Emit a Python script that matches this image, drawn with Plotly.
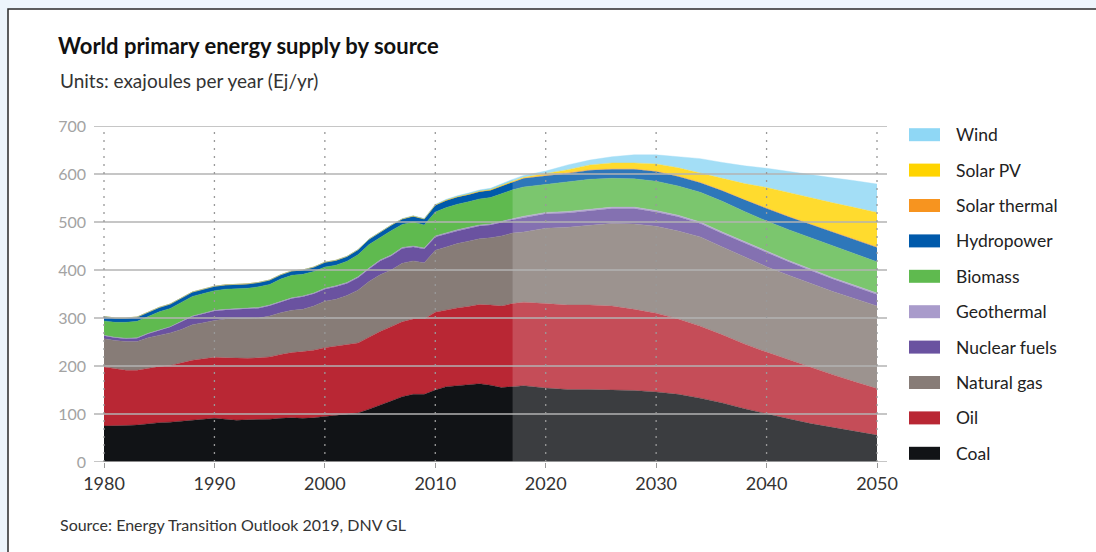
import plotly.graph_objects as go

# ---------------- data ----------------
years = list(range(1980, 2018)) + list(range(2018, 2051, 2))

coal = [75, 75, 76, 77, 80, 82, 83, 85, 88, 89,
        91, 89, 87, 88, 88, 89, 91, 92, 91, 92,
        95, 97, 99, 102, 110, 118, 127, 136, 141, 141,
        150, 157, 159, 161, 163, 160, 155, 157,
        159, 154, 151, 151, 150, 149, 146, 141, 133, 123, 111, 100, 90, 80, 72, 64, 56]
oil = [123, 119, 115, 114, 115, 117, 118, 121, 124, 126,
       127, 128, 129, 128, 129, 130, 133, 136, 139, 141,
       143, 144, 145, 146, 150, 154, 155, 156, 157, 157,
       162, 160, 162, 163, 165, 167, 170, 173,
       174, 176, 176, 176, 175, 169, 164, 157, 150, 142, 135, 129, 123, 117, 110, 103, 97]
gas = [59, 59, 60, 60, 64, 65, 68, 70, 74, 75,
       77, 81, 83, 83, 83, 85, 87, 88, 88, 92,
       97, 98, 103, 110, 116, 118, 118, 122, 121, 117,
       129, 131, 134, 136, 137, 140, 146, 147,
       146, 157, 162, 166, 172, 178, 181, 183, 186, 183, 181, 178, 176, 175, 173, 173, 172]
nuclear = [6, 6, 6, 7, 8, 10, 12, 16, 17, 19,
           19.5, 18.5, 18.5, 19.5, 20.5, 21.5, 22.5, 24.5, 26.5, 25.5,
           25, 26, 25, 26, 26, 29, 29, 31, 29, 29,
           27.5, 27.5, 26.5, 26.5, 26.5, 26.5, 28.5, 27.5,
           30, 30, 30, 31, 31, 32, 30, 30, 28, 28, 29, 29, 28, 27, 26, 25, 24]
geothermal = [1] * 10 + [1.5] * 10 + [2] * 10 + [2.5] * 8 + [3] * 17
biomass = [30, 31, 33, 34, 35, 38, 38, 40, 41, 41,
           41, 42, 42, 42, 43, 43, 46, 47, 45, 45,
           44, 43, 44, 46, 49, 47, 51, 48, 50, 48,
           50, 52, 53, 53, 54, 55, 57, 60,
           61, 58, 62, 62, 60, 59, 61, 61, 62, 64, 63, 63, 64, 65, 66, 65, 65]
hydro = [9] * 20 + [10, 10, 10, 10, 11, 11, 11, 11, 12, 12,
                    14, 15, 15, 15, 15, 15, 16, 16,
                    18, 18, 17, 19, 19, 20, 20, 20, 20, 22, 24, 26, 27, 28, 29, 30, 30]
solar_thermal = [0.1] * 20 + [0.2] * 10 + [0.3, 0.3, 0.3, 0.4, 0.4, 0.4, 0.5, 0.5,
                                           0.5, 1, 1, 1, 1, 1, 1, 1, 1, 1, 1, 1, 1, 1, 1, 1, 1.5]
solar_pv = [0] * 28 + [0.1, 0.1, 0.2, 0.4, 0.5, 0.6, 0.8, 1.0, 1.2, 1.5,
                       1.5, 4, 7, 10, 12, 12, 15, 17, 19, 24, 33, 43, 49, 54, 60, 66, 71.5]
wind = [0] * 20 + [0.2, 0.2, 0.3, 0.3, 0.4, 0.5, 0.5, 0.7, 0.8, 1.0,
                   1.2, 1.5, 1.8, 2.2, 2.5, 2.8, 3.3, 3.8,
                   4, 5, 10, 10, 13, 17, 19, 23, 30, 34, 37, 40, 44, 48, 52, 56, 59]

series_names = ["Coal", "Oil", "Natural gas", "Nuclear fuels", "Geothermal",
                "Biomass", "Hydropower", "Solar thermal", "Solar PV", "Wind"]
series_values = [coal, oil, gas, nuclear, geothermal, biomass, hydro,
                 solar_thermal, solar_pv, wind]
series_colors = ["#111316", "#b92734", "#877c77", "#6a52a0", "#a99bcb",
                 "#5fba4f", "#005aab", "#f7941f", "#ffd400", "#8fd7f5"]

forecast_start = 2017
y_ticks = [0, 100, 200, 300, 400, 500, 600, 700]
x_ticks = [1980, 1990, 2000, 2010, 2020, 2030, 2040, 2050]

title = "World primary energy supply by source"
subtitle = "Units: exajoules per year (Ej/yr)"
source = "Source: Energy Transition Outlook 2019, DNV GL"

# ---------------- layout geometry (pixels) ----------------
W, H = 1096, 552
PL, PR, PT, PB = 94, 887, 126, 462  # plot area in pixels
FONT = "Lato, 'Open Sans', sans-serif"
BG = "#edf5fc"

def px2x(px):
    return (px - PL) / (PR - PL)

def py2y(py):
    return (PB - py) / (PB - PT)

px_per_year = (877 - 104) / 70.0
x_lo = 1980 - (104 - PL) / px_per_year
x_hi = 2050 + (PR - 877) / px_per_year

fig = go.Figure()
for name, vals, col in zip(series_names, series_values, series_colors):
    fig.add_trace(go.Scatter(
        x=years, y=vals, name=name, stackgroup="one",
        mode="lines", line=dict(width=0.4, color=col),
        fillcolor=col, showlegend=False,
        hovertemplate=name + " %{x}: %{y}<extra></extra>",
    ))

shapes = []
# white card with dark border
shapes.append(dict(type="rect", xref="paper", yref="paper",
                   x0=px2x(8), x1=px2x(1200), y0=py2y(9), y1=py2y(700),
                   fillcolor="white", line=dict(color="#2a2a2a", width=1.5),
                   layer="below"))
# forecast overlay
shapes.append(dict(type="rect", xref="x", yref="y",
                   x0=forecast_start, x1=2050, y0=0, y1=700,
                   fillcolor="rgba(255,255,255,0.18)", line=dict(width=0),
                   layer="above"))
# horizontal gridlines above areas
for v in y_ticks:
    shapes.append(dict(type="line", xref="paper", yref="y",
                       x0=0, x1=1, y0=v, y1=v,
                       line=dict(color="#b3b3b3", width=1.5), layer="above"))
# vertical dotted gridlines
for t in x_ticks:
    shapes.append(dict(type="line", xref="x", yref="y",
                       x0=t, x1=t, y0=0, y1=700,
                       line=dict(color="#999999", width=1.3, dash="2px,6px"),
                       layer="above"))

annotations = [
    dict(text="<b>" + title + "</b>", xref="paper", yref="paper",
         x=px2x(56), y=py2y(46), xanchor="left", yanchor="middle",
         showarrow=False, font=dict(family=FONT, size=22, color="#111111")),
    dict(text=subtitle, xref="paper", yref="paper",
         x=px2x(58), y=py2y(80), xanchor="left", yanchor="middle",
         showarrow=False, font=dict(family=FONT, size=19, color="#333333")),
    dict(text=source, xref="paper", yref="paper",
         x=px2x(58), y=py2y(524), xanchor="left", yanchor="middle",
         showarrow=False, font=dict(family=FONT, size=16, color="#333333")),
]

# manual legend (top = last series)
leg_y0, leg_dy = 134.7, 35.4
for i, (name, col) in enumerate(zip(series_names[::-1], series_colors[::-1])):
    cy = leg_y0 + i * leg_dy
    shapes.append(dict(type="rect", xref="paper", yref="paper",
                       x0=px2x(909), x1=px2x(940), y0=py2y(cy + 6.5), y1=py2y(cy - 6.5),
                       fillcolor=col, line=dict(width=0), layer="above"))
    annotations.append(dict(text=name, xref="paper", yref="paper",
                            x=px2x(954), y=py2y(cy), xanchor="left", yanchor="middle",
                            showarrow=False,
                            font=dict(family=FONT, size=17.5, color="#222222")))

fig.update_layout(
    width=W, height=H,
    margin=dict(l=PL, r=W - PR, t=PT, b=H - PB, pad=0),
    paper_bgcolor=BG, plot_bgcolor="white",
    shapes=shapes, annotations=annotations,
    showlegend=False,
    xaxis=dict(range=[x_lo, x_hi], tickvals=x_ticks, ticktext=[str(t) for t in x_ticks],
               showgrid=False, zeroline=False, showline=False,
               ticks="outside", ticklen=5, tickcolor="#9a9a9a", tickwidth=1,
               tickfont=dict(family=FONT, size=18, color="#333333")),
    yaxis=dict(range=[0, 700], tickvals=y_ticks, showgrid=False, zeroline=False,
               showline=False, ticks="", ticklabelstandoff=7,
               tickfont=dict(family=FONT, size=16, color="#a3a3a3")),
    hovermode="closest",
)

fig.write_html(
    "out.html",
    config={"displayModeBar": False},
    post_script="document.body.style.margin='0';document.body.style.padding='0';"
                "document.body.style.background='" + BG + "';"
                "document.documentElement.style.background='" + BG + "';",
)
